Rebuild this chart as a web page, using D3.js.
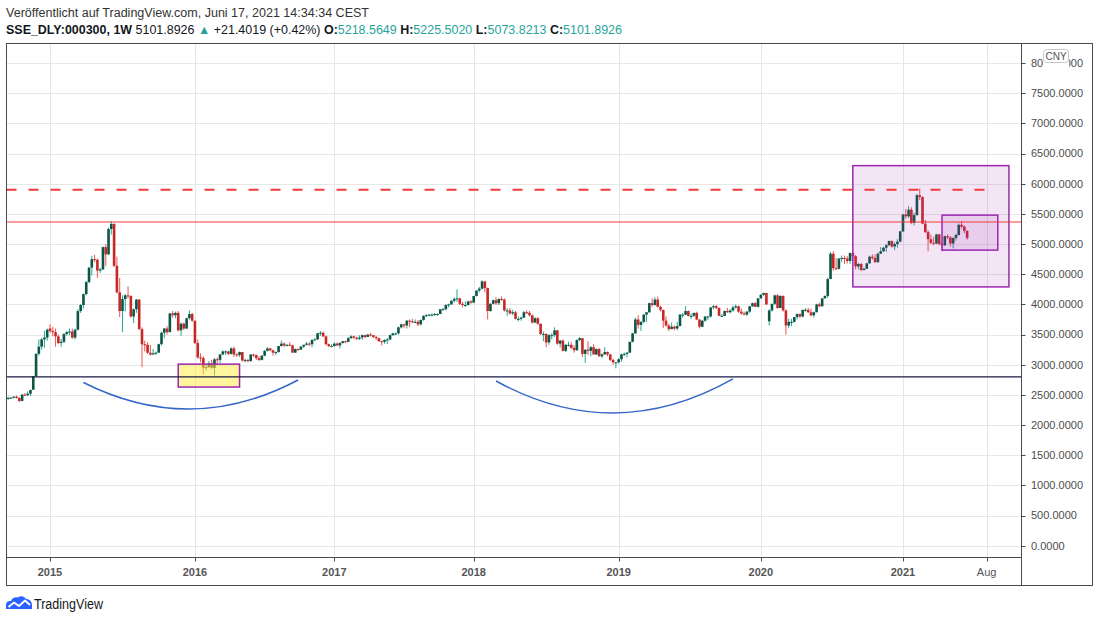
<!DOCTYPE html>
<html>
<head>
<meta charset="utf-8">
<script src="https://cdn.jsdelivr.net/npm/d3@7"></script>
<style>
  body { margin: 0; background: #fff; }
</style>
</head>
<body>
<div id="chart"></div>
<script>
const W = 1100;
const H = 623;

// weekly bars of SSE_DLY:000300 as [open, high, low, close], one per trading week
const bars2014 = [
  [2450,2470,2420,2450],[2450,2465,2435,2455],[2455,2480,2440,2470],[2470,2490,2440,2450],
  [2450,2460,2380,2400],[2400,2510,2395,2505],[2505,2530,2480,2495],[2495,2560,2480,2520],
  [2520,2590,2480,2580],[2585,2815,2580,2810],[2810,3190,2800,3180],[3180,3420,3150,3300],
  [3300,3440,3250,3420],[3420,3560,3280,3450],[3450,3600,3400,3580]
];
const bars2015 = [
  [3600,3670,3530,3560],[3560,3630,3470,3540],[3540,3600,3300,3470],[3470,3500,3340,3360],
  [3360,3430,3300,3380],[3380,3520,3360,3510],[3510,3560,3480,3540],[3540,3600,3490,3550],
  [3550,3600,3430,3450],[3450,3600,3420,3580],[3580,3920,3570,3890],[3890,4010,3860,3990],
  [3990,4180,3930,4170],[4170,4390,4150,4370],[4370,4620,4350,4610],[4610,4800,4480,4750],
  [4750,4820,4700,4740],[4740,4760,4440,4560],[4560,4610,4520,4580],[4580,4960,4570,4950],
  [4950,5000,4640,4830],[4830,5270,4820,5250],[5250,5380,5160,5335],[5335,5340,4620,4640],
  [4640,4790,4180,4200],[4200,4440,3790,3890],[3890,4150,3540,4090],[4090,4170,3880,4150],
  [4150,4300,4100,4140],[4140,4150,3780,3800],[3800,3930,3690,3920],[3920,4090,3860,4080],
  [4080,4090,3580,3590],[3590,3620,2960,3340],[3340,3400,3220,3330],[3330,3370,3180,3200],
  [3200,3330,3150,3170],[3170,3260,3160,3190],[3190,3220,3160,3200],[3200,3350,3200,3340],
  [3340,3550,3320,3530],[3530,3610,3440,3600],[3600,3640,3500,3540],[3540,3860,3540,3850],
  [3850,3890,3780,3820],[3820,3880,3770,3860],[3860,3890,3550,3570],[3570,3700,3480,3680],
  [3680,3700,3580,3600],[3600,3780,3590,3770],[3770,3900,3750,3840],[3840,3860,3710,3730]
];
const bars2016 = [
  [3730,3730,3340,3360],[3360,3420,3100,3120],[3120,3190,3040,3110],[3110,3140,2840,2950],
  [2950,3000,2900,2960],[2960,3060,2950,3020],[3020,3080,2930,2950],[2950,3110,2820,3090],
  [3090,3120,2990,3080],[3080,3180,3030,3170],[3170,3240,3160,3220],[3220,3240,3160,3220],
  [3220,3230,3160,3180],[3180,3290,3170,3270],[3270,3300,3130,3170],[3170,3190,3130,3160],
  [3160,3220,3130,3210],[3210,3210,3050,3070],[3070,3100,3040,3080],[3080,3090,3040,3060],
  [3060,3170,3050,3170],[3170,3180,3130,3160],[3160,3170,3080,3110],[3110,3140,3060,3080],
  [3080,3160,3070,3150],[3150,3240,3140,3230],[3230,3290,3220,3270],[3270,3280,3220,3240],
  [3240,3250,3150,3200],[3200,3220,3160,3210],[3210,3310,3200,3310],[3310,3400,3300,3350],
  [3350,3370,3290,3320],[3320,3340,3300,3330],[3330,3370,3310,3320],[3320,3330,3200,3200],
  [3200,3270,3200,3260],[3260,3270,3230,3250],[3250,3310,3250,3300],[3300,3330,3280,3330],
  [3330,3380,3320,3350],[3350,3370,3310,3340],[3340,3420,3290,3410],[3410,3440,3400,3420],
  [3420,3530,3410,3520],[3520,3560,3480,3530],[3530,3550,3460,3470],[3470,3480,3320,3340],
  [3340,3350,3290,3310],[3310,3340,3290,3310]
];
const bars2017 = [
  [3310,3370,3300,3350],[3350,3370,3310,3320],[3320,3370,3270,3360],[3360,3390,3350,3390],
  [3390,3400,3360,3380],[3380,3460,3370,3440],[3440,3490,3430,3470],[3470,3480,3420,3450],
  [3450,3460,3410,3430],[3430,3490,3410,3450],[3450,3500,3410,3490],[3490,3500,3440,3460],
  [3460,3510,3460,3500],[3500,3530,3470,3490],[3490,3490,3440,3460],[3460,3480,3410,3440],
  [3440,3450,3380,3390],[3390,3400,3320,3380],[3380,3420,3350,3410],[3410,3440,3340,3420],
  [3420,3500,3400,3490],[3490,3530,3480,3520],[3520,3530,3490,3520],[3520,3630,3500,3620],
  [3620,3680,3600,3670],[3670,3680,3610,3650],[3650,3740,3600,3730],[3730,3750,3620,3720],
  [3720,3760,3690,3710],[3710,3750,3690,3710],[3710,3740,3640,3670],[3670,3750,3650,3740],
  [3740,3820,3730,3810],[3810,3840,3790,3820],[3820,3840,3800,3830],[3830,3850,3800,3830],
  [3830,3860,3810,3840],[3840,3850,3810,3840],[3840,3920,3840,3920],[3920,3940,3900,3920],
  [3920,4000,3900,3990],[3990,4010,3950,4000],[4000,4070,3990,4060],[4060,4120,4030,4090],
  [4090,4250,4040,4100],[4100,4110,3990,4010],[4010,4040,3950,3990],[3990,4050,3960,3990],
  [3990,4060,3980,4050],[4050,4070,4010,4030]
];
const bars2018 = [
  [4030,4140,4020,4140],[4140,4230,4130,4230],[4230,4290,4200,4260],[4260,4400,4250,4380],
  [4380,4390,4200,4270],[4270,4280,3750,3890],[3890,4020,3880,4010],[4010,4080,4000,4070],
  [4070,4120,3990,4020],[4020,4100,3990,4090],[4090,4130,4060,4080],[4080,4100,3880,3900],
  [3900,3940,3810,3900],[3900,3940,3830,3850],[3850,3910,3820,3870],[3870,3890,3750,3760],
  [3760,3800,3720,3760],[3760,3800,3730,3780],[3780,3890,3780,3870],[3870,3900,3840,3860],
  [3860,3890,3800,3820],[3820,3830,3680,3700],[3700,3790,3690,3770],[3770,3790,3660,3680],
  [3680,3680,3490,3510],[3510,3550,3390,3510],[3510,3520,3290,3370],[3370,3510,3330,3490],
  [3490,3520,3420,3490],[3490,3620,3460,3570],[3570,3580,3330,3350],[3350,3410,3290,3400],
  [3400,3420,3220,3230],[3230,3340,3210,3330],[3330,3380,3300,3330],[3330,3370,3260,3280],
  [3280,3320,3200,3240],[3240,3420,3230,3410],[3410,3460,3390,3440],[3440,3440,3130,3180],
  [3180,3250,3030,3250],[3250,3390,3160,3230],[3230,3310,3140,3290],[3290,3340,3170,3170],
  [3170,3270,3160,3260],[3260,3280,3130,3140],[3140,3190,3110,3170],[3170,3290,3170,3210],
  [3210,3220,3140,3170],[3170,3180,3060,3080],[3080,3100,3000,3040],[3040,3040,2940,3040]
];
const bars2019 = [
  [3040,3110,3020,3090],[3090,3180,3050,3170],[3170,3200,3140,3180],[3180,3210,3120,3200],
  [3200,3380,3200,3380],[3380,3530,3370,3520],[3520,3780,3510,3750],[3750,3820,3600,3660],
  [3660,3720,3560,3710],[3710,3840,3690,3830],[3830,3870,3710,3870],[3870,4030,3860,4020],
  [4020,4100,3960,3990],[3990,4120,3980,4080],[4080,4130,3950,3960],[3960,3980,3880,3910],
  [3910,3910,3610,3730],[3730,3800,3630,3650],[3650,3680,3560,3590],[3590,3700,3590,3630],
  [3630,3650,3570,3600],[3600,3710,3570,3640],[3640,3840,3640,3830],[3830,3860,3780,3830],
  [3830,3970,3820,3890],[3890,3900,3800,3810],[3810,3850,3760,3810],[3810,3860,3790,3860],
  [3860,3880,3740,3750],[3750,3750,3600,3630],[3630,3740,3620,3730],[3730,3800,3710,3800],
  [3800,3810,3740,3800],[3800,3950,3780,3950],[3950,3990,3920,3970],[3970,3990,3920,3940],
  [3940,3950,3810,3810],[3810,3840,3800,3810],[3810,3900,3810,3890],[3890,3940,3860,3870],
  [3870,3920,3850,3900],[3900,3980,3880,3950],[3950,4000,3930,3970],[3970,3980,3860,3880],
  [3880,3930,3830,3850],[3850,3880,3820,3830],[3830,3890,3810,3880],[3880,3970,3860,3970],
  [3970,4030,3960,4020],[4020,4040,3960,3960],[3960,4100,3950,4100]
];
const bars2020 = [
  [4100,4170,4100,4160],[4160,4190,4140,4190],[4190,4190,3990,4000],[3720,3920,3650,3900],
  [3900,4010,3880,4010],[4010,4160,3990,4150],[4150,4170,3930,3940],[3940,4150,3940,4140],
  [4140,4150,3880,3900],[3900,3920,3500,3650],[3650,3760,3610,3710],[3710,3760,3640,3710],
  [3710,3790,3700,3790],[3790,3850,3750,3840],[3840,3850,3770,3800],[3800,3910,3780,3910],
  [3910,3940,3880,3910],[3910,3940,3860,3870],[3870,3930,3800,3820],[3820,3880,3780,3870],
  [3870,4010,3870,4000],[4000,4030,3950,3970],[3970,4100,3960,4100],[4100,4150,4100,4140],
  [4140,4440,4110,4420],[4420,4870,4420,4840],[4840,4880,4560,4600],[4600,4770,4570,4590],
  [4590,4770,4580,4760],[4760,4810,4700,4770],[4770,4810,4670,4760],[4760,4800,4680,4720],
  [4720,4860,4670,4850],[4850,4870,4720,4800],[4800,4820,4580,4630],[4630,4690,4580,4670],
  [4670,4690,4550,4570],[4570,4610,4560,4590],[4590,4690,4590,4680],[4680,4810,4680,4790],
  [4790,4830,4740,4770],[4770,4830,4690,4700],[4700,4860,4690,4840],[4840,4950,4840,4880],
  [4880,4950,4870,4940],[4940,5000,4870,4980],[4980,5060,4970,5050],[5050,5060,4940,4960],
  [4960,5030,4900,5000],[5000,5080,4940,5040],[5040,5220,5030,5210]
];
const bars2021 = [
  [5210,5500,5200,5490],[5490,5580,5420,5460],[5460,5630,5430,5570],[5570,5610,5330,5350],
  [5350,5520,5310,5480],[5480,5830,5470,5810],[5810,5920,5730,5780],[5780,5790,5330,5340],
  [5340,5400,5180,5200],[5200,5230,4880,5080],[5080,5160,5000,5020],[5020,5120,4980,5010],
  [5010,5170,5000,5160],[5160,5170,4980,5000],[5000,5030,4880,4980],[4980,5140,4970,5130],
  [5130,5160,5080,5110],[5110,5130,4960,5010],[5010,5110,4930,5100],[5100,5170,5060,5150],
  [5150,5340,5140,5320],[5320,5380,5260,5290],[5290,5310,5180,5220],
  [5218.5649,5225.5020,5073.8213,5101.8926]
];

// weeks without any trading session (no bar on the chart)
const closedWeeks = ['2016-02-08','2016-10-03','2017-01-30','2017-10-02','2018-10-01','2019-02-04','2020-01-27'];

const priceTicks = [0,500,1000,1500,2000,2500,3000,3500,4000,4500,5000,5500,6000,6500,7000,7500,8000];
const timeLabels = ['2015','2016','2017','2018','2019','2020','2021','Aug'];
const timeTickWeeks = ['2015-01-05','2016-01-04','2017-01-02','2018-01-01','2019-01-07','2020-01-06','2021-01-04','2021-08-02'];

// drawings: price levels, boxes [from, to, low, high], arcs [from, fromPrice, to, toPrice, bottomPrice]
const high2015 = 5365;
const high2021 = 5900;
const high2021End = '2021-08-02';
const supportLevel = 2800;
const boxes = [
  ['2015-11-23','2016-05-02',2630,3010],
  ['2020-08-31','2021-09-27',4290,6300],
  ['2021-04-12','2021-08-30',4900,5480]
];
const arcs = [
  ['2015-03-30',2705,'2016-09-26',2747,2266],
  ['2018-02-26',2730,'2019-10-28',2764,2200]
];

const fmtDay = d3.utcFormat('%Y-%m-%d');
const weeks = d3.utcMonday
  .range(new Date(Date.UTC(2014, 8, 22)), new Date(Date.UTC(2022, 0, 1)))
  .filter(d => !closedWeeks.includes(fmtDay(d)));
const weekIndex = s => weeks.findIndex(d => fmtDay(d) === s);

const bars = [].concat(bars2014, bars2015, bars2016, bars2017, bars2018, bars2019, bars2020, bars2021)
  .map((b, i) => ({i: i, o: b[0], h: b[1], l: b[2], c: b[3]}));

const plot = {left: 6.5, right: 1021.5, top: 43.5, bottom: 557.5};

const x = d3.scaleLinear()
  .domain([weekIndex('2015-01-05'), weekIndex('2021-01-04')])
  .range([50, 903]);
const y = d3.scaleLinear()
  .domain([0, 8000])
  .range([545.7, 63.1]);

const svg = d3.select('#chart')
  .append('svg')
  .attr('width', W)
  .attr('height', H)
  .style('font-family', '"Liberation Sans", Arial, sans-serif');

svg.append('rect').attr('width', W).attr('height', H).attr('fill', '#fff');

svg.append('clipPath').attr('id', 'plotClip')
  .append('rect')
  .attr('x', plot.left).attr('y', plot.top)
  .attr('width', plot.right - plot.left).attr('height', plot.bottom - plot.top);

const inner = svg.append('g').attr('clip-path', 'url(#plotClip)');

// grid
inner.selectAll('line.hgrid')
  .data(priceTicks)
  .enter()
  .append('line')
  .attr('class', 'hgrid')
  .attr('x1', plot.left).attr('x2', plot.right)
  .attr('y1', d => Math.round(y(d)) + 0.5).attr('y2', d => Math.round(y(d)) + 0.5)
  .attr('stroke', '#e6e6e6');

inner.selectAll('line.vgrid')
  .data(timeTickWeeks)
  .enter()
  .append('line')
  .attr('class', 'vgrid')
  .attr('x1', d => Math.round(x(weekIndex(d))) + 0.5).attr('x2', d => Math.round(x(weekIndex(d))) + 0.5)
  .attr('y1', plot.top).attr('y2', plot.bottom)
  .attr('stroke', '#e6e6e6');

// candles
const isUp = d => d.c >= d.o;
inner.selectAll('line.wick')
  .data(bars)
  .enter()
  .append('line')
  .attr('class', 'wick')
  .attr('x1', d => x(d.i)).attr('x2', d => x(d.i))
  .attr('y1', d => y(d.h)).attr('y2', d => y(d.l))
  .attr('stroke', d => isUp(d) ? '#26a69a' : '#ef5350')
  .attr('stroke-width', 1);

inner.selectAll('rect.body')
  .data(bars)
  .enter()
  .append('rect')
  .attr('class', 'body')
  .attr('x', d => x(d.i) - 1.3)
  .attr('width', 2.6)
  .attr('y', d => y(Math.max(d.o, d.c)))
  .attr('height', d => Math.max(1, Math.abs(y(d.o) - y(d.c))))
  .attr('fill', d => isUp(d) ? '#0d5645' : '#c62828');

// boxes
const boxFill = ['rgba(255,235,59,0.5)', 'rgba(156,39,176,0.12)', 'rgba(156,39,176,0.12)'];
inner.selectAll('rect.box')
  .data(boxes)
  .enter()
  .append('rect')
  .attr('class', 'box')
  .attr('x', d => x(weekIndex(d[0])))
  .attr('width', d => x(weekIndex(d[1])) - x(weekIndex(d[0])))
  .attr('y', d => y(d[3]))
  .attr('height', d => y(d[2]) - y(d[3]))
  .attr('fill', (d, i) => boxFill[i])
  .attr('stroke', '#9c27b0')
  .attr('stroke-width', 1.5);

// arcs
inner.selectAll('path.arc')
  .data(arcs)
  .enter()
  .append('path')
  .attr('class', 'arc')
  .attr('d', d => {
    const x0 = x(weekIndex(d[0])), y0 = y(d[1]);
    const x2 = x(weekIndex(d[2])), y2 = y(d[3]);
    const cy = 2 * y(d[4]) - (y0 + y2) / 2;
    return 'M' + x0 + ',' + y0 + 'Q' + ((x0 + x2) / 2) + ',' + cy + ' ' + x2 + ',' + y2;
  })
  .attr('fill', 'none')
  .attr('stroke', '#3466c9')
  .attr('stroke-width', 1.5);

// level lines
inner.append('line')
  .attr('x1', plot.left).attr('x2', plot.right)
  .attr('y1', y(supportLevel)).attr('y2', y(supportLevel))
  .attr('stroke', '#1a1846').attr('stroke-width', 1.2);
inner.append('line')
  .attr('x1', plot.left).attr('x2', plot.right)
  .attr('y1', y(high2015)).attr('y2', y(high2015))
  .attr('stroke', '#f23a3a').attr('stroke-width', 1.1);
inner.append('line')
  .attr('x1', plot.left).attr('x2', x(weekIndex(high2021End)))
  .attr('y1', y(high2021)).attr('y2', y(high2021))
  .attr('stroke', '#f23a3a').attr('stroke-width', 2)
  .attr('stroke-dasharray', '10,12');

// frame and axes
const frame = '#4a4a4a';
svg.append('rect')
  .attr('x', 6.5).attr('y', 43.5).attr('width', 1086).attr('height', 542)
  .attr('fill', 'none').attr('stroke', frame);
svg.append('line')
  .attr('x1', plot.right).attr('x2', plot.right).attr('y1', 43.5).attr('y2', 585.5)
  .attr('stroke', frame);
svg.append('line')
  .attr('x1', 6.5).attr('x2', plot.right).attr('y1', plot.bottom).attr('y2', plot.bottom)
  .attr('stroke', frame);

// price axis
const pAxis = svg.append('g');
pAxis.selectAll('line')
  .data(priceTicks)
  .enter()
  .append('line')
  .attr('x1', plot.right).attr('x2', plot.right + 4)
  .attr('y1', d => Math.round(y(d)) + 0.5).attr('y2', d => Math.round(y(d)) + 0.5)
  .attr('stroke', frame);
pAxis.selectAll('text')
  .data(priceTicks)
  .enter()
  .append('text')
  .attr('x', 1031)
  .attr('y', d => y(d))
  .attr('dy', '0.35em')
  .attr('font-size', '11px')
  .attr('fill', '#4d4d4d')
  .text(d => d.toFixed(4));

// currency badge, drawn over the top price label as in the original
svg.append('rect')
  .attr('x', 1043).attr('y', 48).attr('width', 26).attr('height', 21)
  .attr('fill', '#fff');
svg.append('rect')
  .attr('x', 1043.5).attr('y', 49.5).attr('width', 25).attr('height', 13).attr('rx', 3)
  .attr('fill', '#fff').attr('stroke', '#c9c9c9');
svg.append('text')
  .attr('x', 1056).attr('y', 56).attr('dy', '0.35em')
  .attr('text-anchor', 'middle').attr('font-size', '10px').attr('fill', '#555')
  .text('CNY');

// time axis
const tAxis = svg.append('g');
tAxis.selectAll('line')
  .data(timeTickWeeks)
  .enter()
  .append('line')
  .attr('x1', d => Math.round(x(weekIndex(d))) + 0.5).attr('x2', d => Math.round(x(weekIndex(d))) + 0.5)
  .attr('y1', plot.bottom).attr('y2', plot.bottom + 4)
  .attr('stroke', frame);
tAxis.selectAll('text')
  .data(timeTickWeeks)
  .enter()
  .append('text')
  .attr('x', d => x(weekIndex(d)))
  .attr('y', 572)
  .attr('dy', '0.35em')
  .attr('text-anchor', 'middle')
  .attr('font-size', '11px')
  .attr('font-weight', (d, i) => timeLabels[i] === 'Aug' ? 'normal' : 'bold')
  .attr('fill', '#555')
  .text((d, i) => timeLabels[i]);

// header
svg.append('text')
  .attr('x', 6).attr('y', 16.5)
  .attr('font-size', '12.5px').attr('fill', '#333')
  .attr('textLength', 363).attr('lengthAdjust', 'spacingAndGlyphs')
  .text('Veröffentlicht auf TradingView.com, Juni 17, 2021 14:34:34 CEST');

const teal = '#26a69a';
const dark = '#131722';
const legendParts = [
  ['SSE_DLY:000300, 1W', dark, 'bold'],
  [' 5101.8926 ', dark, 'normal'],
  ['▲', teal, 'normal'],
  [' +21.4019 (+0.42%) ', dark, 'normal'],
  ['O:', dark, 'bold'], ['5218.5649', teal, 'normal'],
  [' H:', dark, 'bold'], ['5225.5020', teal, 'normal'],
  [' L:', dark, 'bold'], ['5073.8213', teal, 'normal'],
  [' C:', dark, 'bold'], ['5101.8926', teal, 'normal']
];
const legend = svg.append('text')
  .attr('x', 6).attr('y', 34)
  .attr('font-size', '12.5px')
  .attr('textLength', 616).attr('lengthAdjust', 'spacingAndGlyphs')
  .style('white-space', 'pre');
legend.selectAll('tspan')
  .data(legendParts)
  .enter()
  .append('tspan')
  .attr('fill', d => d[1])
  .attr('font-weight', d => d[2])
  .text(d => d[0]);

// TradingView logo
const logo = svg.append('g').attr('transform', 'translate(6,596)');
logo.append('path')
  .attr('d', 'M0,13 L0,9 C0,6 2,4.5 5,5 C6,2 9,0.5 12,1.5 C14.5,-0.5 18.5,0 20,3 C23.5,3 26,5.5 26,9 L26,13 Z')
  .attr('fill', '#2962ff');
logo.append('path')
  .attr('d', 'M2.5,11 L8,6.5 L13,10 L19,4.5 L24,9')
  .attr('fill', 'none').attr('stroke', '#fff').attr('stroke-width', 1.8)
  .attr('stroke-linejoin', 'round');
svg.append('text')
  .attr('x', 34).attr('y', 609)
  .attr('font-size', '14px').attr('fill', dark)
  .attr('textLength', 69).attr('lengthAdjust', 'spacingAndGlyphs')
  .text('TradingView');
</script>
</body>
</html>
